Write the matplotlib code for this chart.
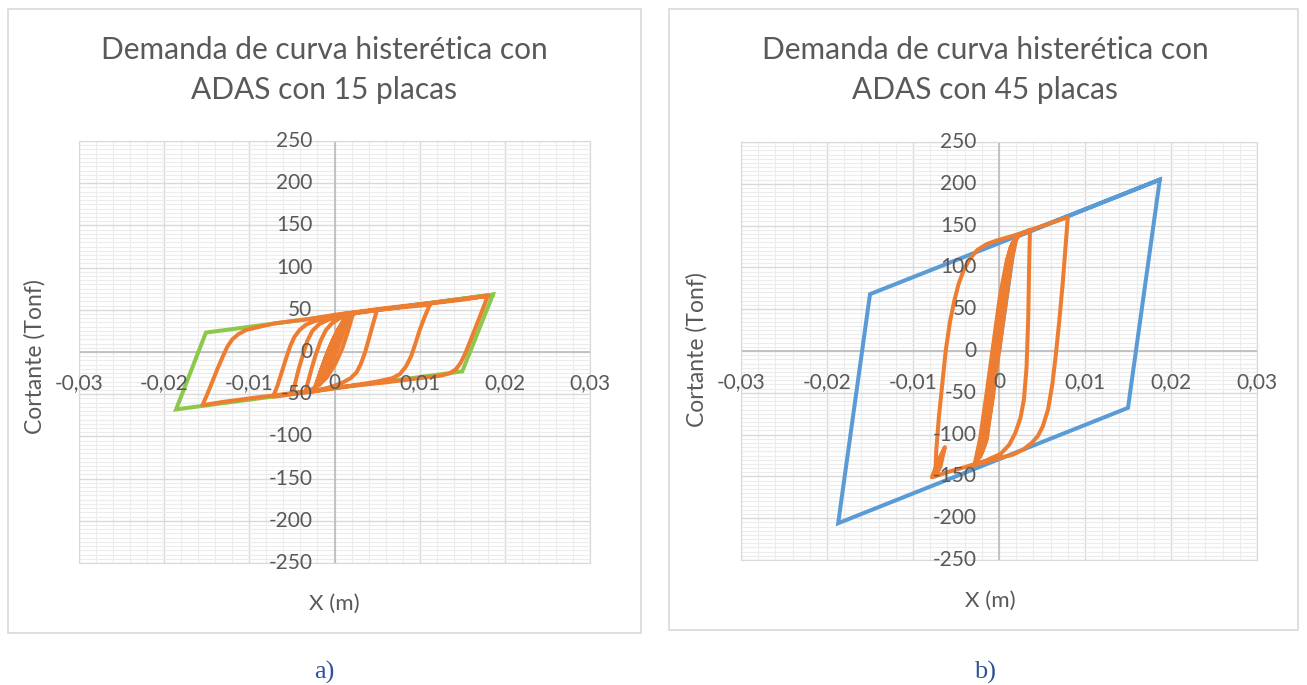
import matplotlib.pyplot as plt
from matplotlib.patches import Rectangle

plt.rcParams['font.family'] = ['Lato', 'DejaVu Sans']

# textos
titulo_a = ['Demanda de curva histerética con', 'ADAS con 15 placas']
titulo_b = ['Demanda de curva histerética con', 'ADAS con 45 placas']
xlabel = 'X (m)'
ylabel = 'Cortante (Tonf)'
x_ticks = [-0.03, -0.02, -0.01, 0.0, 0.01, 0.02, 0.03]
y_ticks = [-250, -200, -150, -100, -50, 0, 50, 100, 150, 200, 250]

# a) 15 placas - modelo bilineal (verde)
a_env_x = [0, 0.0017, 0.0186, 0.0150, -0.0186, -0.0151, 0.0186]
a_env_y = [0, 45, 68, -23, -68, 23, 68]

# a) 15 placas - curva histeretica (naranja)
a_hist_x = [
    0, 0.0006, 0.0012, 0.0016, 0.0012, 0.0004, -0.0006, -0.0014, -0.0019, -0.0014, -0.0006, 0.0003, 0.0010, 0.0015,
    0.0011, 0.0003, -0.0007, -0.0015, -0.0021, -0.0016, -0.0008, 0.0001, 0.0009, 0.0016,
    0.0012, 0.0005, -0.0004, -0.0012, -0.0018, -0.0023, -0.0018, -0.0011, -0.0003, 0.0005, 0.0012, 0.0018,
    0.0022, 0.0019, 0.0015, 0.0009, 0.0001, -0.0009, -0.0018, -0.0026, -0.0034,
    -0.0031, -0.0027, -0.0022, -0.0016, -0.0010, -0.0003, 0.0006, 0.0016,
    0.0030, 0.0050, 0.0046, 0.0041, 0.0036, 0.0031, 0.0026, 0.0019, 0.0010, 0.0000, -0.0020, -0.0040, -0.0049,
    -0.0046, -0.0042, -0.0037, -0.0032, -0.0026, -0.0018, -0.0008, 0.0005, 0.0020, 0.0050, 0.0080, 0.0112,
    0.0106, 0.0100, 0.0095, 0.0090, 0.0084, 0.0077, 0.0068, 0.0050, 0.0020, -0.0020, -0.0050, -0.0072,
    -0.0067, -0.0062, -0.0057, -0.0052, -0.0047, -0.0041, -0.0034, -0.0025, -0.0012, 0.0010, 0.0050, 0.0100,
    0.0150, 0.0180,
    0.0173, 0.0166, 0.0159, 0.0153, 0.0148, 0.0143, 0.0136, 0.0125, 0.0100, 0.0060, 0.0020, -0.0020, -0.0060,
    -0.0100, -0.0130, -0.0155,
    -0.0149, -0.0143, -0.0137, -0.0131, -0.0126, -0.0120, -0.0113, -0.0104, -0.0092, -0.0070, -0.0030, 0.0000,
    0.0060, 0.0120, 0.0180,
]
a_hist_y = [
    0, 15, 32, 42, 28, 5, -18, -32, -38, -22, -2, 18, 33, 43,
    30, 8, -16, -30, -38, -22, 0, 20, 35, 44,
    32, 12, -10, -27, -37, -42, -28, -8, 12, 28, 38, 44,
    46, 36, 22, 4, -14, -30, -39, -44, -47,
    -35, -20, -3, 14, 26, 34, 40, 44,
    47, 50, 36, 18, 0, -14, -24, -31, -36, -40, -46, -48, -49,
    -36, -20, -3, 13, 25, 33, 38, 42, 46, 50, 53, 56,
    42, 26, 10, -5, -17, -26, -31, -35, -40, -46, -50, -53,
    -40, -24, -8, 7, 18, 26, 32, 36, 40, 45, 50, 56,
    62, 66.5,
    48, 30, 12, -3, -13, -20, -25, -28, -31, -36, -40, -45, -50,
    -55, -59, -63,
    -49, -34, -19, -5, 6, 15, 21, 26, 29, 34, 39, 44,
    52, 59, 66.5,
]

# b) 45 placas - modelo bilineal (azul)
b_env_x = [0, 0.0019, 0.0187, 0.0150, -0.0187, -0.0150, 0.0187]
b_env_y = [0, 136, 205, -68, -206, 68, 205]

# b) 45 placas - curva histeretica (naranja)
b_hist_x = [
    0, 0.0005, 0.0010, 0.0014, 0.0010, 0.0002, -0.0006, -0.0014, -0.0020, -0.0014, -0.0006, 0.0002, 0.0010, 0.0016,
    0.0012, 0.0003, -0.0005, -0.0013, -0.0022, -0.0016, -0.0008, 0.0000, 0.0008, 0.0015, 0.0019,
    0.0013, 0.0004, -0.0004, -0.0012, -0.0019, -0.0025, -0.0018, -0.0010, -0.0002, 0.0006, 0.0013, 0.0020,
    0.0014, 0.0006, -0.0002, -0.0010, -0.0017, -0.0024, -0.0028, -0.0022, -0.0015, -0.0007, 0.0001, 0.0009,
    0.0015, 0.0021,
    0.0015, 0.0007, -0.0001, -0.0008, -0.0015, -0.0021, -0.0026, -0.0020, -0.0013, -0.0005, 0.0003, 0.0011,
    0.0017, 0.0022,
    0.0028, 0.0036, 0.0035, 0.0034, 0.0032, 0.0029, 0.0025, 0.0019, 0.0012, 0.0002, -0.0015, -0.0040, -0.0060,
    -0.0078,
    -0.0070, -0.0063, -0.0068, -0.0074,
    -0.0073, -0.0070, -0.0066, -0.0062, -0.0057, -0.0052, -0.0047, -0.0041, -0.0034, -0.0025, -0.0014, -0.0003,
    0.0020, 0.0040, 0.0060, 0.0080,
    0.0077, 0.0074, 0.0070, 0.0066, 0.0062, 0.0057, 0.0051, 0.0045, 0.0038, 0.0028, 0.0016, -0.0010, -0.0030,
]
b_hist_y = [
    0, 50, 100, 125, 110, 40, -30, -90, -122, -105, -40, 30, 95, 128,
    115, 45, -25, -85, -126, -110, -50, 20, 85, 122, 134,
    110, 40, -20, -80, -115, -130, -110, -60, 10, 75, 118, 137,
    112, 55, -5, -65, -105, -128, -134, -105, -55, 5, 65, 108,
    128, 138,
    110, 52, -8, -62, -102, -124, -132, -108, -60, 0, 62, 108,
    128, 137,
    141, 145, 100, 40, -20, -58, -80, -98, -112, -123, -131, -139, -145,
    -151,
    -130, -115, -138, -150,
    -120, -80, -40, 0, 35, 60, 80, 97, 110, 121, 128, 132,
    139, 146, 153, 160,
    120, 80, 35, -5, -40, -70, -90, -102, -110, -118, -124, -131, -137,
]

text_color = '#595959'
fig = plt.figure(figsize=(13.07, 6.85), dpi=100)
W, H = 1307, 685


def fx(px):
    return px / W


def fy(py):
    return 1 - py / H


def draw_panel(ax_rect, frame, titles, title_cx, env_x, env_y, env_color, hist_x, hist_y,
               xl_pos, yl_pos, tag, tag_pos):
    fig.patches.append(Rectangle((fx(frame[0]), fy(frame[3])), fx(frame[2] - frame[0]),
                                 (frame[3] - frame[1]) / H, transform=fig.transFigure,
                                 fill=False, edgecolor='#d9d9d9', lw=1.2))
    ax = fig.add_axes([fx(ax_rect[0]), fy(ax_rect[3]), fx(ax_rect[2] - ax_rect[0]),
                       (ax_rect[3] - ax_rect[1]) / H])
    ax.set_xlim(x_ticks[0], x_ticks[-1])
    ax.set_ylim(y_ticks[0], y_ticks[-1])
    ax.set_xticks(x_ticks)
    ax.set_yticks(y_ticks)
    ax.set_xticks([x_ticks[0] + 0.002 * i for i in range(31)], minor=True)
    ax.set_yticks(list(range(-250, 251, 5)), minor=True)
    ax.grid(which='minor', color='#ececec', lw=0.8)
    ax.grid(which='major', color='#d9d9d9', lw=1.0)
    ax.tick_params(which='both', length=0, labelbottom=False, labelleft=False)
    for s in ax.spines.values():
        s.set_color('#d9d9d9')
    ax.set_axisbelow(True)
    ax.axhline(0, color='#bfbfbf', lw=1.3, zorder=1)
    ax.axvline(0, color='#bfbfbf', lw=1.3, zorder=1)

    ax.plot(env_x, env_y, color=env_color, lw=2.9, zorder=3, solid_joinstyle='miter')
    ax.plot(hist_x, hist_y, color='#ED7D31', lw=2.9, zorder=4)

    for v in y_ticks:
        ax.annotate(str(v), xy=(0, v), xytext=(-16, 0), textcoords='offset points',
                    ha='right', va='center', fontsize=15, color=text_color, zorder=5)
    for v in x_ticks:
        lab = '0' if v == 0 else f'{v:.2f}'.replace('.', ',')
        ax.annotate(lab, xy=(v, 0), xytext=(0, -22.5), textcoords='offset points',
                    ha='center', va='center', fontsize=15, color=text_color, zorder=5)

    fig.text(fx(title_cx), fy(50), titles[0], ha='center', va='center', fontsize=21.5, color=text_color)
    fig.text(fx(title_cx), fy(90), titles[1], ha='center', va='center', fontsize=21.5, color=text_color)
    fig.text(fx(xl_pos[0]), fy(xl_pos[1]), xlabel, ha='center', va='center', fontsize=16, color=text_color)
    fig.text(fx(yl_pos[0]), fy(yl_pos[1]), ylabel, ha='center', va='center', rotation=90,
             fontsize=16.5, color=text_color)
    fig.text(fx(tag_pos[0]), fy(tag_pos[1]), tag, ha='center', va='center', fontsize=19,
             color='#2F5597', family='Liberation Serif')


draw_panel((79, 141, 590, 563), (8, 9, 641, 633), titulo_a, 324, a_env_x, a_env_y, '#8CC84B',
           a_hist_x, a_hist_y, (334, 604), (35, 357), 'a)', (324, 672))
draw_panel((741, 142, 1257, 560), (669, 9, 1298, 630), titulo_b, 985, b_env_x, b_env_y, '#5B9BD5',
           b_hist_x, b_hist_y, (990, 601), (697, 350), 'b)', (985, 672))

fig.savefig('out.png', dpi=100, facecolor='white')
